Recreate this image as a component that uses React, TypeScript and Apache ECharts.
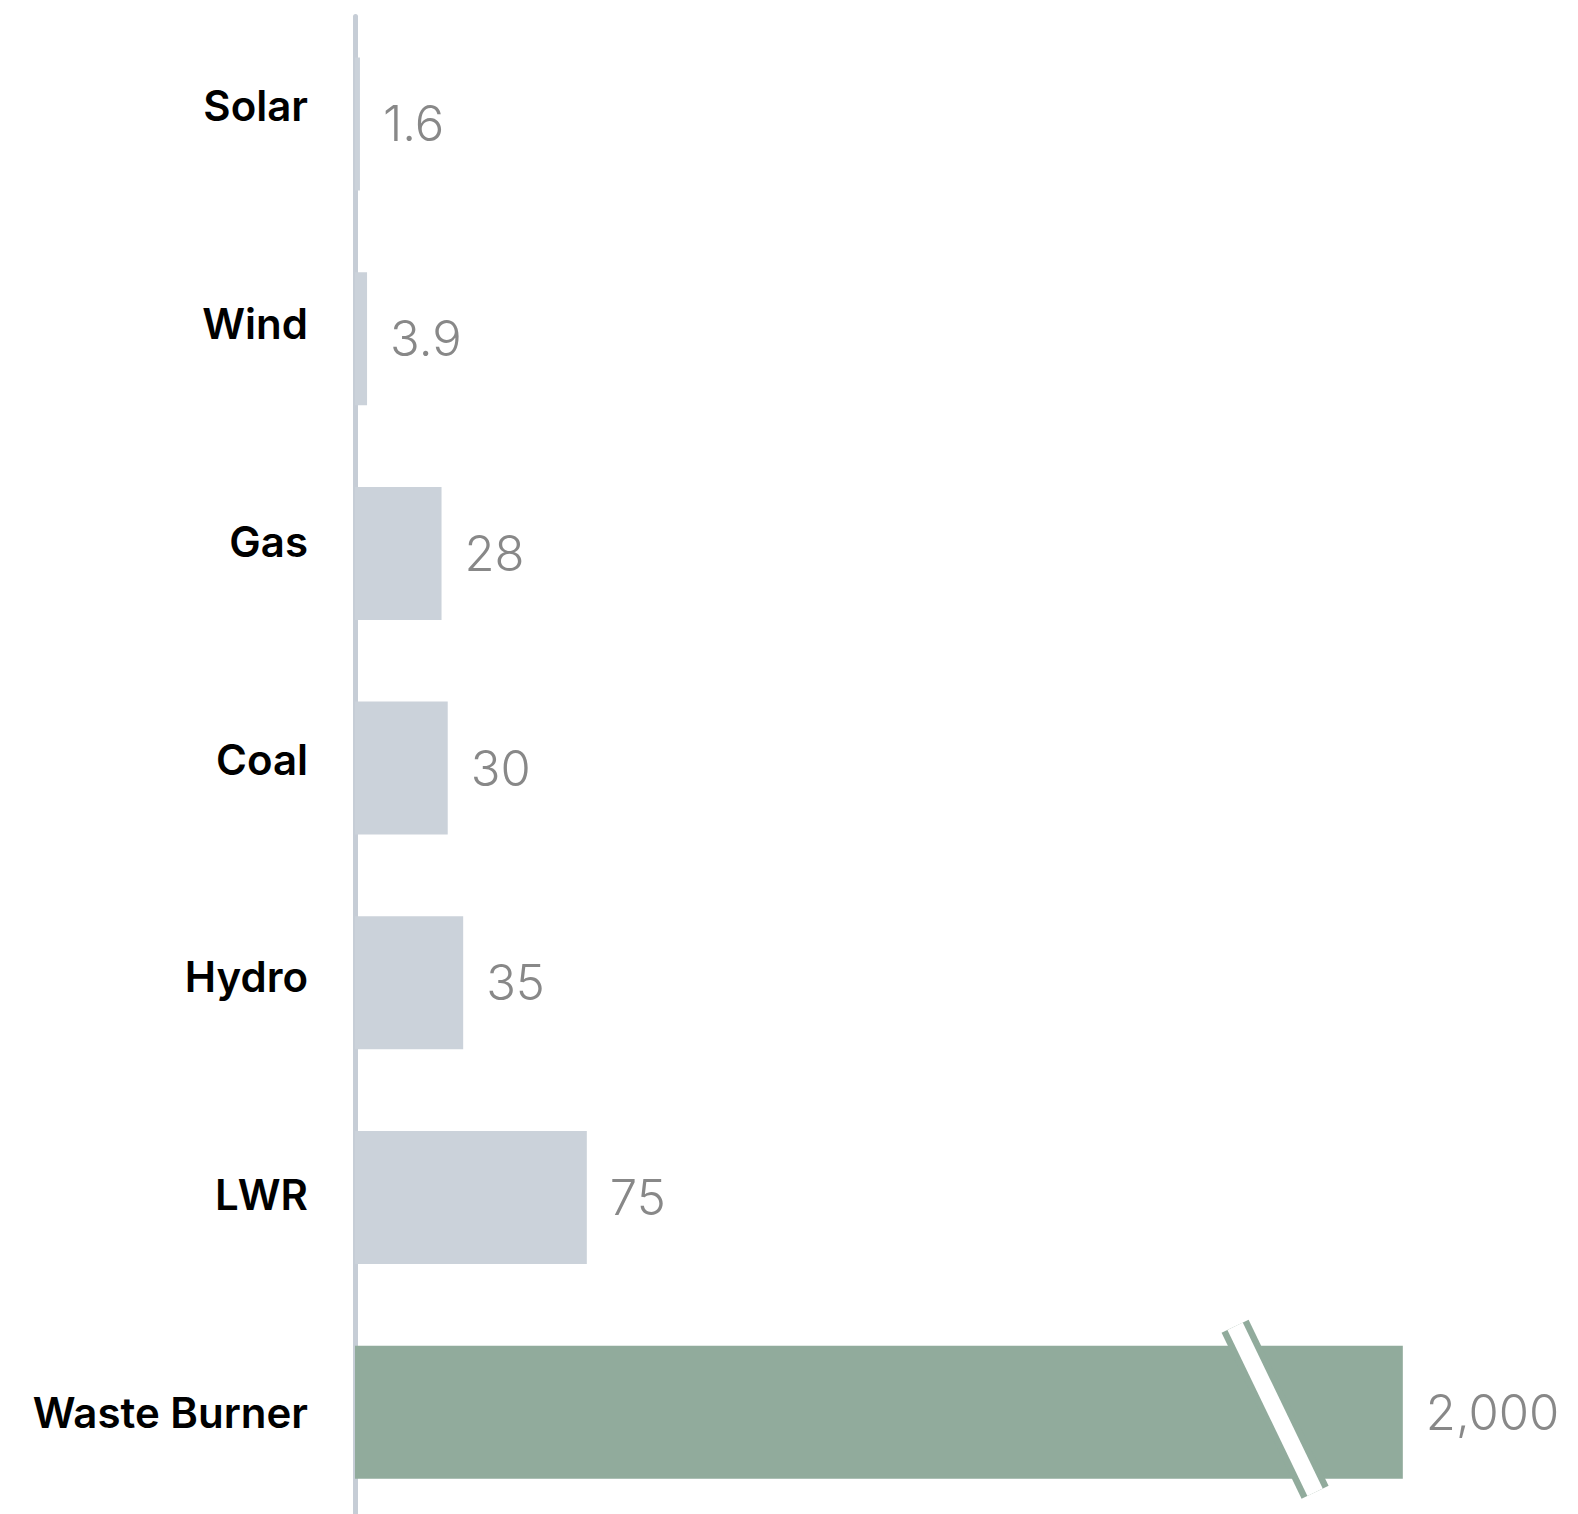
import React, { useEffect, useRef } from "react";
import * as echarts from "echarts";

const categories = ["Solar", "Wind", "Gas", "Coal", "Hydro", "LWR", "Waste Burner"];
const values = [1.6, 3.9, 28, 30, 35, 75, 2000];
const barColors = ["#cbd2da", "#cbd2da", "#cbd2da", "#cbd2da", "#cbd2da", "#cbd2da", "#91ab9c"];
const breakStart = 298;
const breakEnd = 1959;
const axisMax = 2002;

const SHIFT = 20;

export default function App() {
  const ref = useRef<HTMLDivElement>(null);
  useEffect(() => {
    document.body.style.margin = "0";
    document.body.style.overflow = "hidden";
    const chart = echarts.init(ref.current!, null, { renderer: "svg" });
    const option: any = {
      animation: false,
      backgroundColor: "#ffffff",
      grid: [
        { left: 355, top: 16.6 + SHIFT, width: 1054, height: 1503 },
        { left: 308, top: -3 + SHIFT, width: 10, height: 1524 },
      ],
      xAxis: [
        {
          gridIndex: 0,
          type: "value",
          min: 0,
          max: axisMax,
          breaks: [{ start: breakStart, end: breakEnd, gap: 0 }],
          breakArea: { show: false },
          axisLine: { show: false },
          axisTick: { show: false },
          axisLabel: { show: false },
          splitLine: { show: false },
        },
        {
          gridIndex: 1,
          type: "value",
          show: false,
        },
      ],
      yAxis: [
        {
          gridIndex: 0,
          type: "category",
          data: categories,
          inverse: true,
          offset: 3,
          axisLine: { show: true, lineStyle: { color: "#c6cdd6", width: 5 } },
          axisTick: { show: false },
          axisLabel: { show: false },
          splitLine: { show: false },
        },
        {
          gridIndex: 1,
          type: "category",
          data: categories,
          inverse: true,
          axisLine: { show: false },
          axisTick: { show: false },
          splitLine: { show: false },
          axisLabel: {
            show: true,
            margin: 0,
            color: "#000000",
            fontSize: 42,
            fontWeight: 600,
            fontFamily: "Inter",
          },
        },
      ],
      series: [
        {
          type: "bar",
          xAxisIndex: 0,
          yAxisIndex: 0,
          barWidth: 133,
          data: values.map((v, i) => ({ value: v, itemStyle: { color: barColors[i] } })),
          label: {
            show: true,
            position: "right",
            distance: 23,
            color: "#888888",
            fontSize: 49,
            fontWeight: 300,
            fontFamily: "Inter",
            formatter: (p: any) => Number(p.value).toLocaleString("en-US"),
          },
        },
      ],
    };
    chart.setOption(option);
    const p = chart.convertToPixel({ gridIndex: 0 }, [breakStart, categories[categories.length - 1]]) as number[];
    if (p && isFinite(p[0]) && isFinite(p[1])) {
      const cx = p[0];
      const cy = p[1];
      const shape = { x1: cx - 41, y1: cy - 86, x2: cx + 39, y2: cy + 80 };
      chart.setOption({
        graphic: [
          { type: "line", shape, z: 100, style: { stroke: "#91ab9c", lineWidth: 30, lineCap: "butt" } },
          { type: "line", shape, z: 101, style: { stroke: "#ffffff", lineWidth: 17, lineCap: "butt" } },
        ],
      });
    }
    return () => chart.dispose();
  }, []);
  return (
    <div
      ref={ref}
      style={{ position: "absolute", left: 0, top: -SHIFT, width: 1578, height: 1514 + 3 * SHIFT }}
    />
  );
}
